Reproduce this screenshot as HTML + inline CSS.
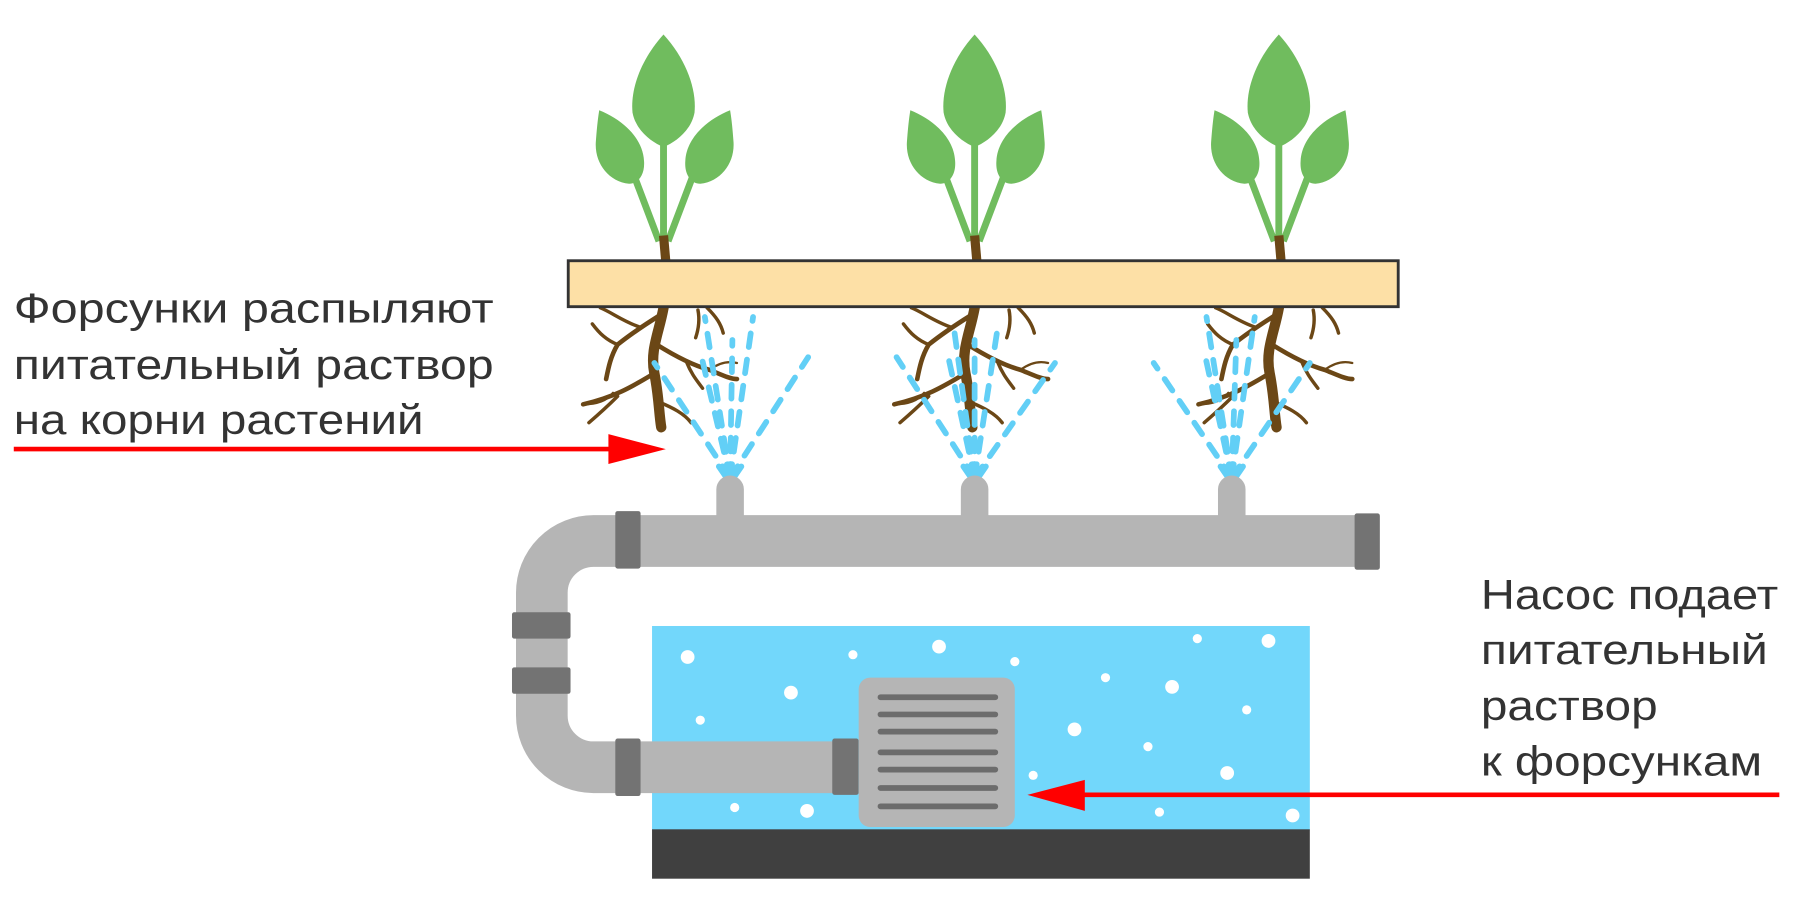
<!DOCTYPE html>
<html><head><meta charset="utf-8"><style>
html,body{margin:0;padding:0;background:#fff;}
svg{display:block;}
</style></head><body>
<svg width="1800" height="912" viewBox="0 0 1568 794" preserveAspectRatio="none" xmlns="http://www.w3.org/2000/svg">
<defs>
<g id="plant">
  <path d="M0,30 C20,52 29,78 27,98 C24,114 10,124 0,128 C-10,124 -24,114 -27,98 C-29,78 -20,52 0,30Z" fill="#70BC5E"/>
  <path d="M-56,96 C-36,104 -18,120 -17,140 C-16,152 -22,160 -30,160 C-48,158 -60,142 -59,124 C-58,110 -57,102 -56,96Z" fill="#70BC5E"/>
  <path d="M58,96 C38,104 20,120 19,140 C18,152 24,160 32,160 C50,158 62,142 61,124 C60,110 59,102 58,96Z" fill="#70BC5E"/>
  <path d="M0,120 L0,210 M-26,152 L-4,210 M26,152 L4,210" stroke="#70BC5E" stroke-width="6" fill="none"/>
  <path d="M0,205 L2,228" stroke="#6B4716" stroke-width="8"/>
</g>
<g id="roots" fill="none" stroke="#6B4716" stroke-linecap="round">
  <path d="M0,268 C-4,290 -12,305 -8,325 C-4,345 -4,360 -2,372" stroke-width="9"/>
  <path d="M-4,275 C-20,285 -30,292 -40,300 C-46,310 -48,320 -50,330" stroke-width="4"/>
  <path d="M-40,300 C-50,296 -56,290 -62,282" stroke-width="3"/>
  <path d="M-20,285 C-35,280 -45,272 -55,268" stroke-width="3"/>
  <path d="M-8,325 C-25,335 -40,345 -70,352" stroke-width="4"/>
  <path d="M-40,345 C-50,355 -58,362 -65,368" stroke-width="3"/>
  <path d="M-70,352 C-60,352 -50,350 -44,342" stroke-width="2"/>
  <path d="M-6,300 C10,310 25,318 40,322 C50,326 58,330 64,330" stroke-width="4"/>
  <path d="M20,315 C24,325 28,330 34,338" stroke-width="3"/>
  <path d="M40,322 C48,316 56,314 64,316" stroke-width="2"/>
  <path d="M30,270 C32,280 30,288 28,294" stroke-width="3"/>
  <path d="M38,268 C46,276 50,282 52,290" stroke-width="3"/>
  <path d="M-4,350 C8,355 18,360 24,368" stroke-width="3"/>
</g>
</defs>

<g font-family="'Liberation Sans', sans-serif" font-size="36" fill="#333">
  <text x="12" y="281" textLength="418" lengthAdjust="spacingAndGlyphs">Форсунки распыляют</text>
  <text x="12" y="330" textLength="418" lengthAdjust="spacingAndGlyphs">питательный раствор</text>
  <text x="12" y="378" textLength="357" lengthAdjust="spacingAndGlyphs">на корни растений</text>
  <text x="1290" y="530" textLength="259" lengthAdjust="spacingAndGlyphs">Насос подает</text>
  <text x="1290" y="578" textLength="250" lengthAdjust="spacingAndGlyphs">питательный</text>
  <text x="1290" y="627" textLength="154" lengthAdjust="spacingAndGlyphs">раствор</text>
  <text x="1290" y="675" textLength="245" lengthAdjust="spacingAndGlyphs">к форсункам</text>
</g>

<use href="#plant" x="578" y="0"/>
<use href="#plant" x="849" y="0"/>
<use href="#plant" x="1114" y="0"/>
<use href="#roots" x="578" y="0"/>
<use href="#roots" x="849" y="0"/>
<use href="#roots" x="1114" y="0"/>

<rect x="495" y="227" width="723" height="40" fill="#FDE0A6" stroke="#333" stroke-width="2.5"/>

<g stroke="#62CFF6" stroke-width="5" stroke-linecap="round" stroke-dasharray="12 11" fill="none">
  <g transform="translate(636,416)">
    <path d="M0,0 L-66,-100 M0,0 L-26,-110 M0,0 L-22,-140 M0,0 L2,-120 M0,0 L20,-140 M0,0 L68,-105 M-3,0 L-14,-16 M3,0 L14,-16"/>
  </g>
  <g transform="translate(849,416)">
    <path d="M0,0 L-68,-105 M0,0 L-24,-110 M0,0 L-18,-130 M0,0 L0,-120 M0,0 L20,-130 M0,0 L70,-100 M-3,0 L-14,-16 M3,0 L14,-16"/>
  </g>
  <g transform="translate(1073,416)">
    <path d="M0,0 L-68,-100 M0,0 L-24,-110 M0,0 L-22,-140 M0,0 L4,-120 M0,0 L20,-140 M0,0 L68,-100 M-3,0 L-14,-16 M3,0 L14,-16"/>
  </g>
</g>

<g fill="#B5B5B5">
  <path d="M624,452 L624,426 A12,12 0 0 1 648,426 L648,452Z"/>
  <path d="M837,452 L837,426 A12,12 0 0 1 861,426 L861,452Z"/>
  <path d="M1061,452 L1061,426 A12,12 0 0 1 1085,426 L1085,452Z"/>
</g>

<rect x="568" y="545" width="573" height="178" fill="#72D7FB"/>
<rect x="568" y="722" width="573" height="43" fill="#404040"/>
<g fill="#fff">
  <ellipse cx="599" cy="572" rx="6" ry="6"/><circle cx="743" cy="570" r="4"/><circle cx="818" cy="563" r="6"/>
  <circle cx="884" cy="576" r="4"/><circle cx="1043" cy="556" r="4"/><circle cx="1105" cy="558" r="6"/>
  <circle cx="689" cy="603" r="6"/><circle cx="963" cy="590" r="4"/><circle cx="1021" cy="598" r="6"/>
  <circle cx="610" cy="627" r="4"/><circle cx="936" cy="635" r="6"/><circle cx="1086" cy="618" r="4"/>
  <circle cx="1000" cy="650" r="4"/><circle cx="900" cy="675" r="4"/><circle cx="1069" cy="673" r="6"/>
  <circle cx="640" cy="703" r="4"/><circle cx="703" cy="706" r="6"/><circle cx="1010" cy="707" r="4"/>
  <circle cx="1126" cy="710" r="6"/>
</g>

<g fill="none" stroke="#B5B5B5" stroke-width="45">
  <path d="M1195,471 L517,471 A45,45 0 0 0 472,516 L472,623 A45,45 0 0 0 517,668 L740,668"/>
</g>
<g fill="#737373">
  <rect x="536" y="445" width="22" height="50" rx="2"/>
  <rect x="1180" y="447" width="22" height="49" rx="2"/>
  <rect x="446" y="533" width="51" height="23" rx="2"/>
  <rect x="446" y="581" width="51" height="23" rx="2"/>
  <rect x="536" y="643" width="22" height="50" rx="2"/>
  <rect x="725" y="643" width="23" height="49" rx="2"/>
</g>

<rect x="748" y="590" width="136" height="130" rx="10" fill="#B5B5B5"/>
<g stroke="#6C6C6C" stroke-width="5" stroke-linecap="round">
  <line x1="767" y1="607" x2="867" y2="607"/>
  <line x1="767" y1="622" x2="867" y2="622"/>
  <line x1="767" y1="637" x2="867" y2="637"/>
  <line x1="767" y1="655" x2="867" y2="655"/>
  <line x1="767" y1="670" x2="867" y2="670"/>
  <line x1="767" y1="686" x2="867" y2="686"/>
  <line x1="767" y1="702" x2="867" y2="702"/>
</g>

<line x1="12" y1="391" x2="535" y2="391" stroke="#F00" stroke-width="4"/>
<polygon points="530,378 580,391 530,404" fill="#F00"/>
<line x1="940" y1="692" x2="1550" y2="692" stroke="#F00" stroke-width="4"/>
<polygon points="945,679 895,692 945,706" fill="#F00"/>
</svg>
</body></html>
